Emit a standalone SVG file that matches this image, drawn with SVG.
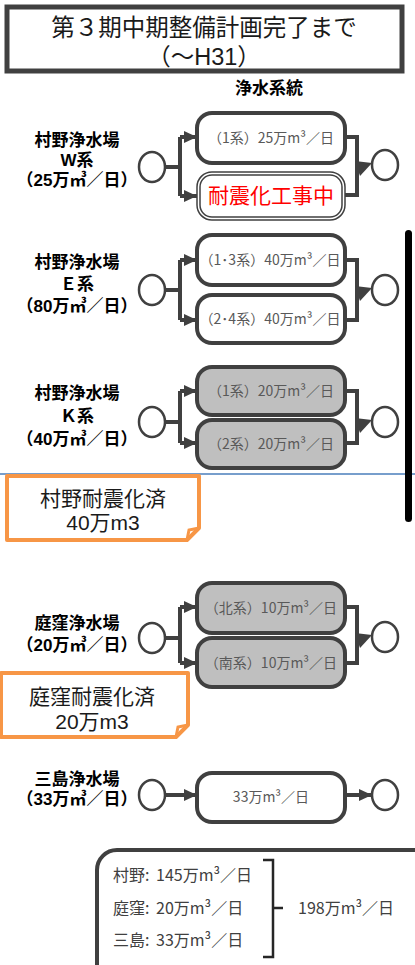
<svg xmlns="http://www.w3.org/2000/svg" width="415" height="965" viewBox="0 0 415 965">
<style>
.box{fill:#fff;stroke:#404040;stroke-width:4}
.gbox{fill:#bfbfbf;stroke:#404040;stroke-width:4}
.circ{fill:#fff;stroke:#404040;stroke-width:2.5}
.con{fill:none;stroke:#404040;stroke-width:4}
.ah{fill:#404040}
.lbl{font-family:"Liberation Sans","Noto Sans CJK JP",sans-serif;font-weight:bold;font-size:17px;fill:#000;text-anchor:middle}
.bt{font-family:"Noto Sans CJK JP","Noto Sans",sans-serif;font-size:14px;fill:#595959;text-anchor:middle}
.call{fill:#fff;stroke:#f79646;stroke-width:4;stroke-linejoin:round}
.ct{font-family:"Liberation Sans","Noto Sans CJK JP",sans-serif;font-size:21px;fill:#1a1a1a;text-anchor:middle}
.st{font-family:"Noto Sans CJK JP","Noto Sans",sans-serif;font-size:16px;fill:#404040}
</style>
<defs>
<marker id="arr" markerUnits="userSpaceOnUse" markerWidth="14" markerHeight="12" refX="13" refY="6" orient="auto">
<path d="M0,0 L13,6 L0,12 Z" fill="#404040"/>
</marker>
</defs>

<g id="title">
<rect x="7" y="7" width="395" height="64" fill="#fff" stroke="#404040" stroke-width="5"/>
<text font-family="'Liberation Sans','Noto Sans CJK JP',sans-serif" font-size="23.5" fill="#1a1a1a" text-anchor="middle"><tspan x="204" y="36">第３期中期整備計画完了まで</tspan><tspan x="204" y="65">（～H31）</tspan></text>
</g>
<g id="header">
<text x="269" y="94" font-family="'Noto Sans CJK JP','Noto Sans',sans-serif" font-size="17" font-weight="bold" fill="#000" text-anchor="middle">浄水系統</text>
</g>

<line id="divider" x1="0" y1="474" x2="415" y2="474" stroke="#4a7ebb" stroke-width="1.5"/>
<rect id="bar" x="405" y="230" width="7" height="292" rx="3.5" fill="#000"/>

<g id="connectors">
<!-- W -->
<path class="con" d="M165,167 H180 M180,137 V196"/>
<path class="con" d="M180,137 H197" marker-end="url(#arr)"/>
<path class="con" d="M180,196 H197" marker-end="url(#arr)"/>
<path class="con" d="M345,137 H357 V175 M345,195 H357 V170"/>
<polygon class="ah" points="355,161 372,163 360,176"/>
<!-- E -->
<path class="con" d="M165,290 H180 M180,260 V320"/>
<path class="con" d="M180,260 H197" marker-end="url(#arr)"/>
<path class="con" d="M180,320 H197" marker-end="url(#arr)"/>
<path class="con" d="M345,260 H357 V300 M345,320 H357 V295"/>
<polygon class="ah" points="355,286 372,288 360,301"/>
<!-- K -->
<path class="con" d="M165,422 H180 M180,391 V443"/>
<path class="con" d="M180,391 H197" marker-end="url(#arr)"/>
<path class="con" d="M180,443 H197" marker-end="url(#arr)"/>
<path class="con" d="M345,391 H357 V433 M345,443 H357 V428"/>
<polygon class="ah" points="355,418 372,420 360,433"/>
<!-- Niwakubo -->
<path class="con" d="M165,638 H180 M180,607 V663"/>
<path class="con" d="M180,607 H197" marker-end="url(#arr)"/>
<path class="con" d="M180,663 H197" marker-end="url(#arr)"/>
<path class="con" d="M345,607 H357 V648 M345,663 H357 V643"/>
<polygon class="ah" points="355,633 372,635 360,648"/>
<!-- Mishima -->
<path class="con" d="M165,795 H197" marker-end="url(#arr)"/>
<path class="con" d="M345,795 H372" marker-end="url(#arr)"/>
</g>

<g id="murano-w">
<text class="lbl"><tspan x="77" y="146">村野浄水場</tspan><tspan x="77" y="166">W系</tspan><tspan x="77" y="186">（25万㎥／日）</tspan></text>
<ellipse class="circ" cx="152" cy="167" rx="13" ry="15"/>
<ellipse class="circ" cx="385" cy="165" rx="13" ry="15"/>
</g>
<g id="w1">
<rect class="box" x="197" y="113" width="148" height="50" rx="15"/>
<text class="bt" x="271" y="143">（1系）25万m³／日</text>
</g>
<g id="w2">
<rect x="197" y="172" width="148" height="48" rx="15" fill="#fff" stroke="#404040" stroke-width="1.5"/>
<rect x="200" y="175" width="142" height="42" rx="12" fill="none" stroke="#404040" stroke-width="1.5"/>
<text x="271" y="203" font-family="'Noto Sans CJK JP','Noto Sans',sans-serif" font-size="21" fill="#ff0000" text-anchor="middle">耐震化工事中</text>
</g>

<g id="murano-e">
<text class="lbl"><tspan x="77" y="268">村野浄水場</tspan><tspan x="77" y="290">Ｅ系</tspan><tspan x="77" y="312">（80万㎥／日）</tspan></text>
<ellipse class="circ" cx="152" cy="290" rx="13" ry="15"/>
<ellipse class="circ" cx="385" cy="290" rx="13" ry="15"/>
</g>
<g id="e1">
<rect class="box" x="197" y="235" width="148" height="50" rx="15"/>
<text class="bt" x="270" y="265">（1･3系）40万m³／日</text>
</g>
<g id="e2">
<rect class="box" x="197" y="295" width="148" height="48" rx="15"/>
<text class="bt" x="270" y="324">（2･4系）40万m³／日</text>
</g>

<g id="murano-k">
<text class="lbl"><tspan x="77" y="399">村野浄水場</tspan><tspan x="77" y="422">Ｋ系</tspan><tspan x="77" y="445">（40万㎥／日）</tspan></text>
<ellipse class="circ" cx="152" cy="422" rx="13" ry="15"/>
<ellipse class="circ" cx="385" cy="422" rx="13" ry="15"/>
</g>
<g id="k1">
<rect class="gbox" x="197" y="367" width="148" height="48" rx="15"/>
<text class="bt" x="271" y="396">（1系）20万m³／日</text>
</g>
<g id="k2">
<rect class="gbox" x="197" y="420" width="148" height="48" rx="15"/>
<text class="bt" x="271" y="449">（2系）20万m³／日</text>
</g>

<g id="callout-murano">
<path class="call" d="M7,476 H199 V528 L187,540 H7 Z"/>
<path d="M187,540 L189,530 L199,528" fill="none" stroke="#f79646" stroke-width="3"/>
<text class="ct"><tspan x="103" y="506">村野耐震化済</tspan><tspan x="103" y="530">40万m3</tspan></text>
</g>

<g id="niwakubo">
<text class="lbl"><tspan x="77" y="629">庭窪浄水場</tspan><tspan x="77" y="651">（20万㎥／日）</tspan></text>
<ellipse class="circ" cx="152" cy="638" rx="13" ry="15"/>
<ellipse class="circ" cx="385" cy="637" rx="13" ry="15"/>
</g>
<g id="n1">
<rect class="gbox" x="197" y="583" width="148" height="50" rx="15"/>
<text class="bt" x="271" y="613">（北系）10万m³／日</text>
</g>
<g id="n2">
<rect class="gbox" x="197" y="638" width="148" height="49" rx="15"/>
<text class="bt" x="271" y="668">（南系）10万m³／日</text>
</g>

<g id="callout-niwakubo">
<path class="call" d="M1,673 H188 V725 L176,737 H1 Z"/>
<path d="M176,737 L178,727 L188,725" fill="none" stroke="#f79646" stroke-width="3"/>
<text class="ct"><tspan x="92" y="704">庭窪耐震化済</tspan><tspan x="92" y="729">20万m3</tspan></text>
</g>

<g id="mishima">
<text class="lbl"><tspan x="77" y="785">三島浄水場</tspan><tspan x="77" y="805">（33万㎥／日）</tspan></text>
<ellipse class="circ" cx="152" cy="795" rx="13" ry="15"/>
<ellipse class="circ" cx="385" cy="795" rx="13" ry="15"/>
</g>
<g id="m1">
<rect class="box" x="197" y="773" width="148" height="49" rx="15"/>
<text class="bt" x="271" y="802">33万m³／日</text>
</g>

<g id="summary">
<rect x="97" y="850" width="340" height="140" rx="20" fill="#fff" stroke="#404040" stroke-width="4"/>
<text class="st" x="113" y="881">村野:<tspan x="156">145万m³／日</tspan></text>
<text class="st" x="113" y="914">庭窪:<tspan x="156">20万m³／日</tspan></text>
<text class="st" x="113" y="946">三島:<tspan x="156">33万m³／日</tspan></text>
<path d="M263,860 H273 V957 H263 M273,908 H283" fill="none" stroke="#262626" stroke-width="2.5"/>
<text class="st" x="298" y="914">198万m³／日</text>
</g>
</svg>
